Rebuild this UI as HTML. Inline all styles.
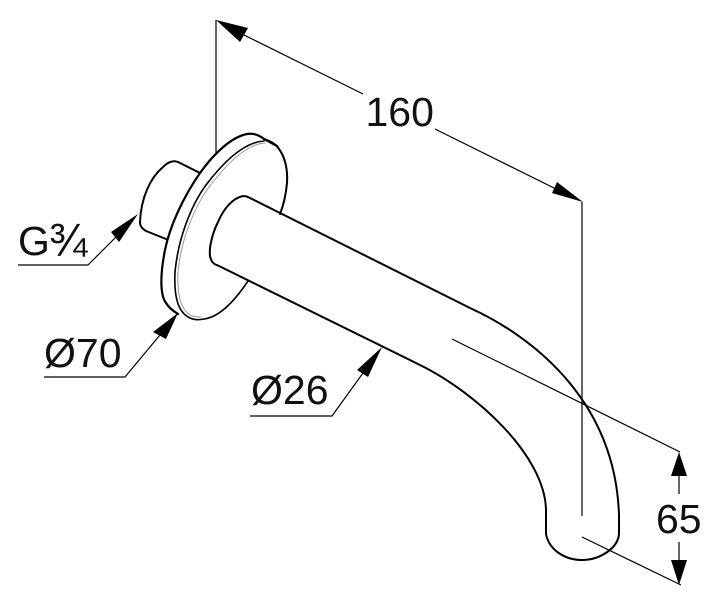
<!DOCTYPE html>
<html>
<head>
<meta charset="utf-8">
<style>
html,body{margin:0;padding:0;background:#fff;}
svg{display:block;}
text{font-family:"Liberation Sans",sans-serif;font-size:41px;fill:#111;}
</style>
</head>
<body>
<svg width="720" height="605" viewBox="0 0 720 605" xmlns="http://www.w3.org/2000/svg">
<rect width="720" height="605" fill="#fff"/>
<g fill="none" stroke="#000" stroke-linecap="round" stroke-linejoin="round">
  <!-- stub -->
  <path stroke-width="2" d="M200 173 L178 162 C173 160 168 162 163 167 C150 178 141 198 140 222 C140 227 143 229 146 231 L166 239"/>
  <!-- flange back -->
  <path stroke-width="2.200" d="M277 146 L264 139 C259 135 253 133 247 134 C232 137 215 152 200 173 C184 196 170 225 165 250 C160 275 160 295 166 303 C169 308 173 311 178 314"/>
  <!-- flange front -->
  <path stroke-width="1.600" d="M264 141 C245 142 225 160 206 185 C190 207 178 240 175 272 C174 295 177 312 190 318 C194 320 199 320 204 319 C220 317 236 299 248 281"/>
  <path stroke-width="1" stroke="#999" d="M265 143 C247 144 228 162 209 187 C193 209 181 241 178 272 C177 294 180 310 192 316 C195 317 198 317 201 317"/>
  <path stroke-width="2" d="M264 139 C270 141 276 144 279 149 C285 157 288 170 287 183 C286 194 284 204 280 214"/>
  <!-- pipe -->
  <path stroke-width="2" d="M243 196 C233 198 224 208 218 222 C212 234 209 248 210 256 C211 261 213 264 218 265.500 L420 365 C475 392 545 455 546 510 L546 534 C549 550 565 560 582 560 C600 560 618 548 619 534 L619 515 C615 395 525 333 470 308 L248 197 C246 196 245 196 243 196"/>
  <!-- dimension lines -->
  <g stroke-width="1.200" stroke-linecap="butt">
    <path d="M216 20 V153"/>
    <path d="M244 35 L363 94"/>
    <path d="M435 129 L556 189"/>
    <path d="M582 202 V516"/>
    <path d="M452 339 L680 452"/>
    <path d="M582 537 L681 585"/>
    <path d="M679 476 V494"/>
    <path d="M679 542 V560"/>
    <path d="M18 265 H88 L117 236"/>
    <path d="M44 377 H125 L160 335"/>
    <path d="M250 416 H332 L363 373"/>
  </g>
</g>
<g fill="#000" stroke="none">
  <polygon points="216,20 248,28 240,42"/>
  <polygon points="583,202 557,182 552,193"/>
  <polygon points="679,452 671,476 687,476"/>
  <polygon points="679,585 671,560 687,560"/>
  <polygon points="138,214 111,232 119,242"/>
  <polygon points="178,313 153,332 166,339"/>
  <polygon points="382,347 357,370 368,377"/>
</g>
<text x="365.500" y="126">160</text>
<text x="656" y="533">65</text>
<text x="18" y="255">G<tspan x="49" y="256" style="font-size:46px">¾</tspan></text>
<text x="44" y="367">Ø70</text>
<text x="251" y="404">Ø26</text>
</svg>
</body>
</html>
